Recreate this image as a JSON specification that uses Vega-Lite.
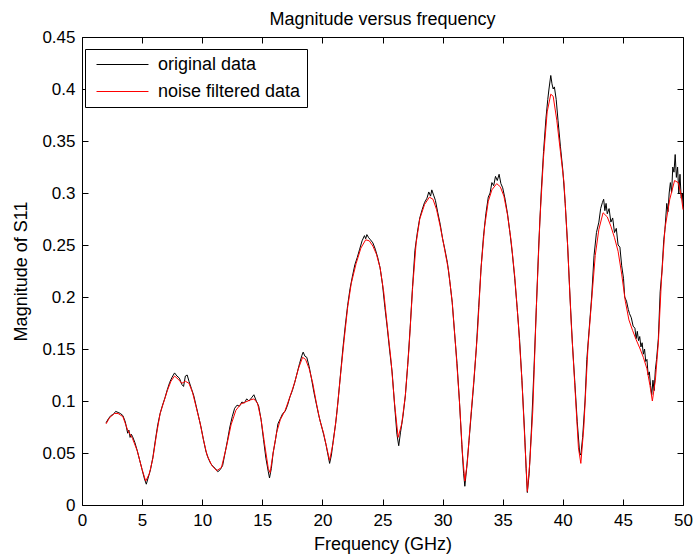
{
 "$schema": "https://vega.github.io/schema/vega-lite/v6.json",
 "width": 601, "height": 468,
 "autosize": {"type": "none"},
 "padding": {"left": 82, "top": 37, "right": 13, "bottom": 49},
 "background": "white",
 "title": {"text": "Magnitude versus frequency", "font": "Liberation Sans", "fontSize": 18, "fontWeight": "normal", "color": "black", "anchor": "middle", "baseline": "alphabetic", "offset": -15},
 "config": {
  "view": {"stroke": null},
  "axis": {"domainColor": "black", "domainWidth": 1, "tickColor": "black", "tickSize": -6, "tickWidth": 1, "labelFont": "Liberation Sans", "labelFontSize": 17, "labelColor": "black", "labelPadding": 13, "titleFont": "Liberation Sans", "titleFontSize": 18, "titleFontWeight": "normal", "titleColor": "black", "grid": false, "labelFlush": false, "labelOverlap": false}
 },
 "datasets": {
  "orig": [
   {"f":2.0,"v":0.079},{"f":2.2,"v":0.083},{"f":2.4,"v":0.086},{"f":2.6,"v":0.087},{"f":2.8,"v":0.090},{"f":3.0,"v":0.089},{"f":3.2,"v":0.088},{"f":3.4,"v":0.086},{"f":3.6,"v":0.080},{"f":3.8,"v":0.069},{"f":3.9,"v":0.072},{"f":4.0,"v":0.065},{"f":4.1,"v":0.068},{"f":4.2,"v":0.066},{"f":4.4,"v":0.060},{"f":4.6,"v":0.052},{"f":4.8,"v":0.043},{"f":5.0,"v":0.034},{"f":5.2,"v":0.025},{"f":5.35,"v":0.020},{"f":5.5,"v":0.026},{"f":5.7,"v":0.034},{"f":5.9,"v":0.046},{"f":6.1,"v":0.062},{"f":6.3,"v":0.077},{"f":6.5,"v":0.088},{"f":6.7,"v":0.096},{"f":6.9,"v":0.103},{"f":7.1,"v":0.111},{"f":7.3,"v":0.118},{"f":7.5,"v":0.123},{"f":7.7,"v":0.127},{"f":7.9,"v":0.124},{"f":8.1,"v":0.122},{"f":8.3,"v":0.116},{"f":8.45,"v":0.114},{"f":8.6,"v":0.124},{"f":8.75,"v":0.125},{"f":8.9,"v":0.119},{"f":9.1,"v":0.112},{"f":9.3,"v":0.105},{"f":9.5,"v":0.095},{"f":9.7,"v":0.085},{"f":9.9,"v":0.075},{"f":10.1,"v":0.063},{"f":10.3,"v":0.052},{"f":10.5,"v":0.045},{"f":10.7,"v":0.040},{"f":10.9,"v":0.037},{"f":11.1,"v":0.035},{"f":11.3,"v":0.032},{"f":11.5,"v":0.034},{"f":11.7,"v":0.038},{"f":11.9,"v":0.050},{"f":12.1,"v":0.062},{"f":12.3,"v":0.075},{"f":12.5,"v":0.085},{"f":12.7,"v":0.093},{"f":12.9,"v":0.096},{"f":13.1,"v":0.095},{"f":13.3,"v":0.099},{"f":13.5,"v":0.098},{"f":13.7,"v":0.102},{"f":13.9,"v":0.100},{"f":14.1,"v":0.103},{"f":14.3,"v":0.106},{"f":14.5,"v":0.100},{"f":14.7,"v":0.095},{"f":14.9,"v":0.082},{"f":15.1,"v":0.063},{"f":15.3,"v":0.045},{"f":15.5,"v":0.032},{"f":15.6,"v":0.026},{"f":15.75,"v":0.035},{"f":15.9,"v":0.050},{"f":16.1,"v":0.063},{"f":16.3,"v":0.078},{"f":16.5,"v":0.083},{"f":16.7,"v":0.088},{"f":16.9,"v":0.090},{"f":17.1,"v":0.096},{"f":17.3,"v":0.104},{"f":17.5,"v":0.110},{"f":17.7,"v":0.118},{"f":17.9,"v":0.127},{"f":18.1,"v":0.136},{"f":18.3,"v":0.144},{"f":18.4,"v":0.147},{"f":18.55,"v":0.143},{"f":18.7,"v":0.142},{"f":18.9,"v":0.133},{"f":19.1,"v":0.121},{"f":19.3,"v":0.108},{"f":19.5,"v":0.097},{"f":19.7,"v":0.086},{"f":19.9,"v":0.077},{"f":20.1,"v":0.068},{"f":20.3,"v":0.058},{"f":20.5,"v":0.046},{"f":20.6,"v":0.040},{"f":20.75,"v":0.048},{"f":20.9,"v":0.062},{"f":21.1,"v":0.078},{"f":21.3,"v":0.100},{"f":21.5,"v":0.125},{"f":21.7,"v":0.150},{"f":21.9,"v":0.172},{"f":22.1,"v":0.192},{"f":22.3,"v":0.208},{"f":22.5,"v":0.220},{"f":22.7,"v":0.231},{"f":22.9,"v":0.238},{"f":23.1,"v":0.246},{"f":23.3,"v":0.254},{"f":23.5,"v":0.259},{"f":23.6,"v":0.256},{"f":23.7,"v":0.260},{"f":23.85,"v":0.257},{"f":24.0,"v":0.255},{"f":24.2,"v":0.252},{"f":24.4,"v":0.246},{"f":24.6,"v":0.238},{"f":24.8,"v":0.228},{"f":25.0,"v":0.212},{"f":25.2,"v":0.190},{"f":25.4,"v":0.170},{"f":25.6,"v":0.148},{"f":25.8,"v":0.128},{"f":26.0,"v":0.097},{"f":26.2,"v":0.068},{"f":26.35,"v":0.057},{"f":26.5,"v":0.070},{"f":26.7,"v":0.085},{"f":26.9,"v":0.105},{"f":27.1,"v":0.135},{"f":27.3,"v":0.170},{"f":27.5,"v":0.210},{"f":27.7,"v":0.245},{"f":27.9,"v":0.262},{"f":28.1,"v":0.276},{"f":28.3,"v":0.284},{"f":28.5,"v":0.291},{"f":28.7,"v":0.295},{"f":28.85,"v":0.301},{"f":29.0,"v":0.297},{"f":29.1,"v":0.303},{"f":29.25,"v":0.298},{"f":29.4,"v":0.293},{"f":29.6,"v":0.281},{"f":29.8,"v":0.270},{"f":30.0,"v":0.256},{"f":30.2,"v":0.245},{"f":30.4,"v":0.233},{"f":30.6,"v":0.215},{"f":30.8,"v":0.195},{"f":31.0,"v":0.165},{"f":31.2,"v":0.136},{"f":31.4,"v":0.100},{"f":31.6,"v":0.058},{"f":31.75,"v":0.030},{"f":31.85,"v":0.018},{"f":32.0,"v":0.035},{"f":32.2,"v":0.062},{"f":32.4,"v":0.090},{"f":32.6,"v":0.118},{"f":32.8,"v":0.150},{"f":33.0,"v":0.190},{"f":33.2,"v":0.228},{"f":33.4,"v":0.258},{"f":33.6,"v":0.280},{"f":33.8,"v":0.296},{"f":33.95,"v":0.300},{"f":34.1,"v":0.310},{"f":34.25,"v":0.307},{"f":34.4,"v":0.316},{"f":34.55,"v":0.312},{"f":34.7,"v":0.318},{"f":34.85,"v":0.309},{"f":35.0,"v":0.305},{"f":35.2,"v":0.294},{"f":35.4,"v":0.280},{"f":35.6,"v":0.262},{"f":35.8,"v":0.242},{"f":36.0,"v":0.218},{"f":36.2,"v":0.190},{"f":36.4,"v":0.160},{"f":36.6,"v":0.120},{"f":36.8,"v":0.075},{"f":36.95,"v":0.035},{"f":37.05,"v":0.012},{"f":37.2,"v":0.030},{"f":37.4,"v":0.075},{"f":37.6,"v":0.130},{"f":37.8,"v":0.190},{"f":38.0,"v":0.250},{"f":38.2,"v":0.300},{"f":38.4,"v":0.340},{"f":38.6,"v":0.372},{"f":38.75,"v":0.390},{"f":38.85,"v":0.400},{"f":39.0,"v":0.413},{"f":39.1,"v":0.405},{"f":39.2,"v":0.400},{"f":39.3,"v":0.402},{"f":39.45,"v":0.390},{"f":39.6,"v":0.370},{"f":39.8,"v":0.345},{"f":40.0,"v":0.322},{"f":40.2,"v":0.290},{"f":40.4,"v":0.250},{"f":40.6,"v":0.200},{"f":40.8,"v":0.155},{"f":41.0,"v":0.118},{"f":41.2,"v":0.080},{"f":41.4,"v":0.050},{"f":41.5,"v":0.048},{"f":41.65,"v":0.065},{"f":41.85,"v":0.100},{"f":42.0,"v":0.140},{"f":42.2,"v":0.170},{"f":42.4,"v":0.200},{"f":42.6,"v":0.240},{"f":42.8,"v":0.262},{"f":43.0,"v":0.272},{"f":43.15,"v":0.285},{"f":43.3,"v":0.291},{"f":43.4,"v":0.294},{"f":43.5,"v":0.283},{"f":43.6,"v":0.290},{"f":43.7,"v":0.280},{"f":43.85,"v":0.285},{"f":44.0,"v":0.272},{"f":44.15,"v":0.276},{"f":44.3,"v":0.262},{"f":44.45,"v":0.266},{"f":44.6,"v":0.250},{"f":44.75,"v":0.248},{"f":44.9,"v":0.230},{"f":45.05,"v":0.218},{"f":45.15,"v":0.200},{"f":45.3,"v":0.196},{"f":45.45,"v":0.188},{"f":45.55,"v":0.184},{"f":45.7,"v":0.180},{"f":45.85,"v":0.172},{"f":46.0,"v":0.170},{"f":46.1,"v":0.160},{"f":46.2,"v":0.167},{"f":46.3,"v":0.158},{"f":46.4,"v":0.162},{"f":46.5,"v":0.152},{"f":46.6,"v":0.156},{"f":46.7,"v":0.145},{"f":46.8,"v":0.150},{"f":46.9,"v":0.138},{"f":47.0,"v":0.140},{"f":47.1,"v":0.125},{"f":47.2,"v":0.128},{"f":47.3,"v":0.115},{"f":47.4,"v":0.106},{"f":47.5,"v":0.120},{"f":47.6,"v":0.110},{"f":47.7,"v":0.130},{"f":47.8,"v":0.140},{"f":47.95,"v":0.160},{"f":48.1,"v":0.205},{"f":48.25,"v":0.225},{"f":48.4,"v":0.255},{"f":48.5,"v":0.265},{"f":48.65,"v":0.290},{"f":48.75,"v":0.282},{"f":48.85,"v":0.300},{"f":48.95,"v":0.310},{"f":49.05,"v":0.300},{"f":49.15,"v":0.325},{"f":49.25,"v":0.320},{"f":49.35,"v":0.337},{"f":49.45,"v":0.315},{"f":49.55,"v":0.325},{"f":49.65,"v":0.300},{"f":49.75,"v":0.318},{"f":49.85,"v":0.295},{"f":49.95,"v":0.300},{"f":50.0,"v":0.288}
  ],
  "filt": [
   {"f":2.0,"v":0.078},{"f":2.3,"v":0.084},{"f":2.7,"v":0.088},{"f":3.0,"v":0.088},{"f":3.4,"v":0.085},{"f":3.8,"v":0.072},{"f":4.2,"v":0.064},{"f":4.6,"v":0.052},{"f":5.0,"v":0.034},{"f":5.3,"v":0.023},{"f":5.6,"v":0.030},{"f":5.9,"v":0.045},{"f":6.2,"v":0.068},{"f":6.5,"v":0.088},{"f":6.8,"v":0.099},{"f":7.1,"v":0.110},{"f":7.4,"v":0.119},{"f":7.7,"v":0.124},{"f":8.0,"v":0.121},{"f":8.3,"v":0.117},{"f":8.6,"v":0.119},{"f":8.9,"v":0.117},{"f":9.2,"v":0.108},{"f":9.5,"v":0.094},{"f":9.8,"v":0.080},{"f":10.1,"v":0.063},{"f":10.4,"v":0.048},{"f":10.8,"v":0.038},{"f":11.2,"v":0.033},{"f":11.6,"v":0.036},{"f":12.0,"v":0.055},{"f":12.4,"v":0.077},{"f":12.8,"v":0.091},{"f":13.2,"v":0.097},{"f":13.6,"v":0.099},{"f":14.0,"v":0.101},{"f":14.3,"v":0.102},{"f":14.6,"v":0.098},{"f":14.9,"v":0.082},{"f":15.2,"v":0.058},{"f":15.5,"v":0.035},{"f":15.65,"v":0.031},{"f":15.9,"v":0.050},{"f":16.2,"v":0.070},{"f":16.5,"v":0.082},{"f":16.9,"v":0.091},{"f":17.3,"v":0.104},{"f":17.7,"v":0.118},{"f":18.0,"v":0.131},{"f":18.35,"v":0.142},{"f":18.6,"v":0.140},{"f":18.9,"v":0.131},{"f":19.2,"v":0.117},{"f":19.5,"v":0.098},{"f":19.8,"v":0.081},{"f":20.1,"v":0.069},{"f":20.4,"v":0.053},{"f":20.6,"v":0.043},{"f":20.9,"v":0.060},{"f":21.2,"v":0.088},{"f":21.5,"v":0.124},{"f":21.8,"v":0.158},{"f":22.1,"v":0.190},{"f":22.4,"v":0.213},{"f":22.8,"v":0.232},{"f":23.2,"v":0.247},{"f":23.6,"v":0.255},{"f":23.9,"v":0.254},{"f":24.2,"v":0.249},{"f":24.5,"v":0.241},{"f":24.8,"v":0.228},{"f":25.1,"v":0.205},{"f":25.4,"v":0.172},{"f":25.7,"v":0.140},{"f":26.0,"v":0.098},{"f":26.3,"v":0.065},{"f":26.6,"v":0.078},{"f":26.9,"v":0.105},{"f":27.2,"v":0.150},{"f":27.5,"v":0.208},{"f":27.8,"v":0.252},{"f":28.1,"v":0.275},{"f":28.5,"v":0.289},{"f":28.9,"v":0.296},{"f":29.2,"v":0.294},{"f":29.5,"v":0.284},{"f":29.8,"v":0.268},{"f":30.1,"v":0.250},{"f":30.5,"v":0.225},{"f":30.8,"v":0.195},{"f":31.1,"v":0.150},{"f":31.4,"v":0.100},{"f":31.65,"v":0.050},{"f":31.85,"v":0.023},{"f":32.05,"v":0.040},{"f":32.3,"v":0.078},{"f":32.6,"v":0.120},{"f":32.9,"v":0.165},{"f":33.2,"v":0.228},{"f":33.5,"v":0.268},{"f":33.8,"v":0.292},{"f":34.1,"v":0.303},{"f":34.5,"v":0.309},{"f":34.8,"v":0.306},{"f":35.1,"v":0.297},{"f":35.4,"v":0.279},{"f":35.7,"v":0.254},{"f":36.0,"v":0.220},{"f":36.3,"v":0.175},{"f":36.6,"v":0.120},{"f":36.85,"v":0.060},{"f":37.05,"v":0.013},{"f":37.25,"v":0.040},{"f":37.5,"v":0.090},{"f":37.8,"v":0.190},{"f":38.1,"v":0.275},{"f":38.4,"v":0.335},{"f":38.7,"v":0.378},{"f":39.0,"v":0.395},{"f":39.2,"v":0.393},{"f":39.5,"v":0.370},{"f":39.8,"v":0.340},{"f":40.1,"v":0.310},{"f":40.4,"v":0.250},{"f":40.7,"v":0.175},{"f":41.0,"v":0.115},{"f":41.3,"v":0.055},{"f":41.5,"v":0.040},{"f":41.75,"v":0.075},{"f":42.1,"v":0.153},{"f":42.4,"v":0.197},{"f":42.7,"v":0.240},{"f":43.0,"v":0.265},{"f":43.35,"v":0.281},{"f":43.7,"v":0.277},{"f":44.0,"v":0.268},{"f":44.3,"v":0.257},{"f":44.6,"v":0.244},{"f":44.9,"v":0.222},{"f":45.2,"v":0.196},{"f":45.5,"v":0.178},{"f":45.8,"v":0.168},{"f":46.1,"v":0.159},{"f":46.4,"v":0.151},{"f":46.7,"v":0.142},{"f":47.0,"v":0.131},{"f":47.25,"v":0.115},{"f":47.45,"v":0.100},{"f":47.7,"v":0.120},{"f":47.95,"v":0.156},{"f":48.2,"v":0.215},{"f":48.5,"v":0.266},{"f":48.9,"v":0.294},{"f":49.3,"v":0.312},{"f":49.6,"v":0.310},{"f":49.85,"v":0.298},{"f":50.0,"v":0.284}
  ]
 },
 "layer": [
  {
   "layer": [
    {
     "data": {"name": "orig"},
     "mark": {"type": "line", "strokeWidth": 1},
     "encoding": {
      "x": {"field": "f", "type": "quantitative", "scale": {"domain": [0, 50]}, "axis": {"values": [0,5,10,15,20,25,30,35,40,45,50], "title": "Frequency (GHz)", "titleY": 44, "titleBaseline": "alphabetic"}},
      "y": {"field": "v", "type": "quantitative", "scale": {"domain": [0, 0.45]}, "axis": {"values": [0,0.05,0.1,0.15,0.2,0.25,0.3,0.35,0.4,0.45], "format": "~g", "title": "Magnitude of S11", "titleX": -56, "titleBaseline": "alphabetic"}},
      "color": {"datum": "original data", "type": "nominal", "scale": {"domain": ["original data", "noise filtered data"], "range": ["#000000", "#ff0000"]},
       "legend": {"title": null, "orient": "none", "legendX": 3, "legendY": 12, "strokeColor": "black", "fillColor": "white", "padding": 6, "symbolOffset": 22, "symbolType": "M-3,0H3", "symbolSize": 300, "symbolStrokeWidth": 1, "labelFont": "Liberation Sans", "labelFontSize": 18, "labelColor": "black", "labelOffset": 26, "rowPadding": 8, "labelLimit": 400}}
     }
    },
    {
     "data": {"name": "filt"},
     "mark": {"type": "line", "strokeWidth": 1},
     "encoding": {
      "x": {"field": "f", "type": "quantitative"},
      "y": {"field": "v", "type": "quantitative"},
      "color": {"datum": "noise filtered data", "type": "nominal"}
     }
    }
   ]
  },
  {
   "data": {"name": "filt"},
   "mark": {"type": "line", "opacity": 0},
   "encoding": {
    "x": {"field": "f", "type": "quantitative", "axis": {"orient": "top", "values": [0,5,10,15,20,25,30,35,40,45,50], "labels": false, "title": null}},
    "y": {"field": "v", "type": "quantitative", "axis": {"orient": "right", "values": [0,0.05,0.1,0.15,0.2,0.25,0.3,0.35,0.4,0.45], "labels": false, "title": null}}
   }
  }
 ],
 "resolve": {"axis": {"x": "independent", "y": "independent"}}
}
